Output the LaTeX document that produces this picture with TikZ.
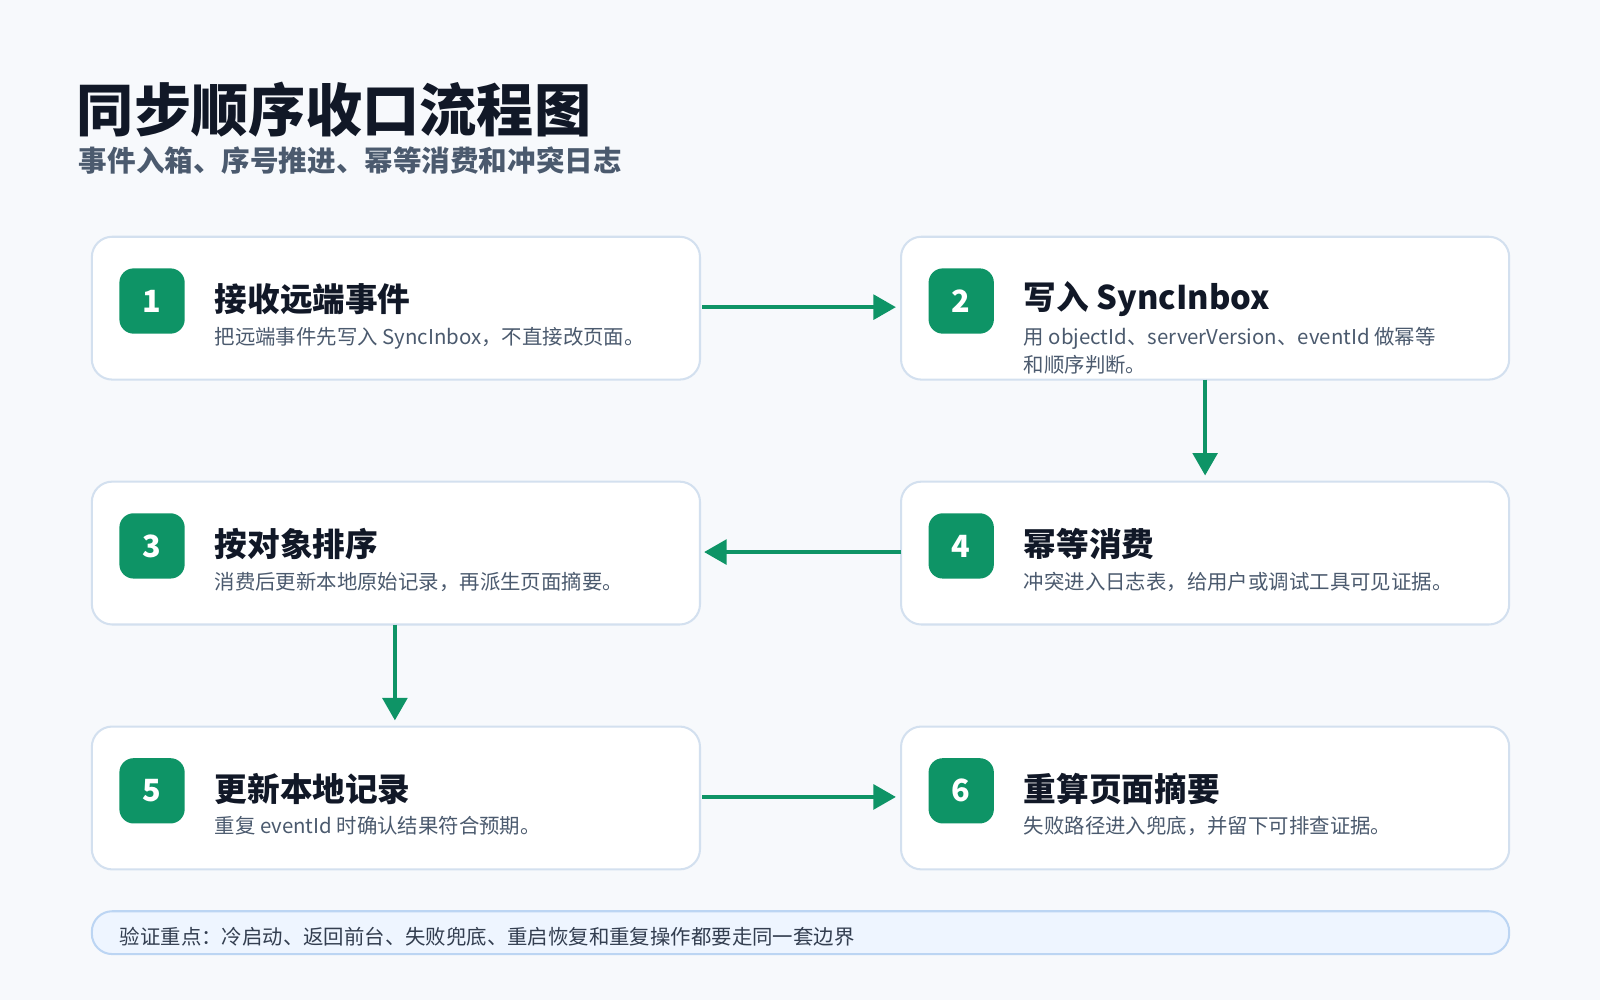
\documentclass[tikz,border=0pt]{standalone}
\usepackage{fontspec}
\setmainfont{Noto Sans CJK SC}
\usetikzlibrary{arrows.meta}
\definecolor{bg}{HTML}{F7F9FC}
\definecolor{bd}{HTML}{D3E0EF}
\definecolor{gr}{HTML}{0E9466}
\definecolor{tt}{HTML}{111827}
\definecolor{st}{HTML}{4B5A6E}
\definecolor{nf}{HTML}{EEF5FF}
\definecolor{nb}{HTML}{BCD5F3}
\begin{document}
\begin{tikzpicture}[x=0.5pt,y=-0.5pt,
 box/.style={draw=bd,line width=1pt,fill=white,rounded corners=10pt},
 badge/.style={fill=gr,rounded corners=7pt,minimum size=32pt,inner sep=0,text=white,font=\fontsize{15}{15}\selectfont\bfseries},
 ttl/.style={anchor=west,inner sep=0,text=tt,font=\fontsize{16}{16}\selectfont\bfseries},
 sub/.style={anchor=north west,inner sep=0,text=st,align=left,font=\fontsize{10}{14}\selectfont},
 arr/.style={draw=gr,line width=2pt,-{Triangle[length=11pt,width=12pt]}}]
\fill[bg] (0,0) rectangle (1568,980);
\node[anchor=west,inner sep=0,text=tt,font=\fontsize{28}{28}\selectfont\bfseries] (title) at (75,107) {同步顺序收口流程图};
\node[anchor=west,inner sep=0,text=st,font=\fontsize{14}{14}\selectfont\bfseries] (subtitle) at (77,157) {事件入箱、序号推进、幂等消费和冲突日志};
\foreach \n/\x/\y/\t/\s in {
 1/90/232/接收远端事件/{把远端事件先写入 SyncInbox，不直接改页面。},
 2/883/232/写入 SyncInbox/{用 objectId、serverVersion、eventId 做幂等\\和顺序判断。},
 3/90/472/按对象排序/{消费后更新本地原始记录，再派生页面摘要。},
 4/883/472/幂等消费/{冲突进入日志表，给用户或调试工具可见证据。},
 5/90/712/更新本地记录/{重复 eventId 时确认结果符合预期。},
 6/883/712/重算页面摘要/{失败路径进入兜底，并留下可排查证据。}}{
 \draw[box] (\x,\y) rectangle ++(596,140);
 \node[box,draw=none,fill=none,minimum width=298pt,minimum height=70pt,anchor=north west] (b\n) at (\x,\y) {};
 \node[badge] (g\n) at ([shift={(59,63)}]\x,\y) {\n};
 \node[ttl] (t\n) at ([shift={(120,61)}]\x,\y) {\t};
 \node[sub] (s\n) at ([shift={(120,88)}]\x,\y) {\s};
}
\draw[arr] (b1.east |- 0,301) -- (878,301);
\draw[arr] (1181,372) -- (1181,466);
\draw[arr] (883,541) -- (690,541);
\draw[arr] (387,612) -- (387,706);
\draw[arr] (b5.east |- 0,781) -- (878,781);
\draw[fill=nf,draw=nb,line width=1pt,rounded corners=10pt] (90,893) rectangle (1479,935);
\node[anchor=west,inner sep=0,text=tt!80!nb,font=\fontsize{10}{10}\selectfont] (note) at (117,918) {验证重点：冷启动、返回前台、失败兜底、重启恢复和重复操作都要走同一套边界};
\end{tikzpicture}
\end{document}
